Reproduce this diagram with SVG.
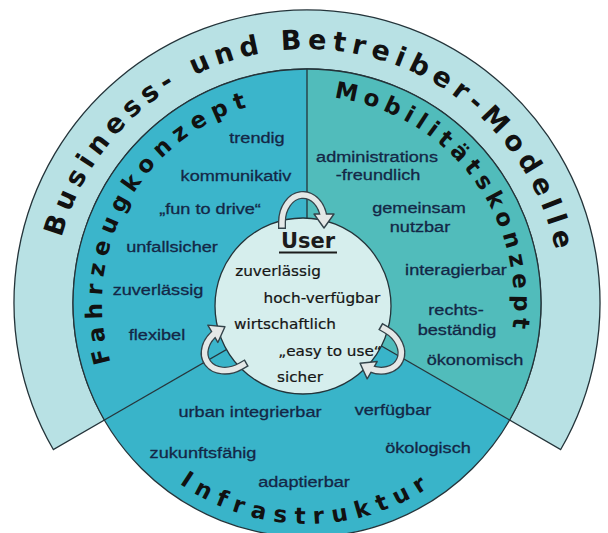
<svg xmlns="http://www.w3.org/2000/svg" xmlns:xlink="http://www.w3.org/1999/xlink" width="608" height="533" viewBox="0 0 608 533">
  <style>
    .edge { stroke: #24343a; stroke-width: 1.3; }
    .divider { stroke: #24343a; stroke-width: 1.3; fill: none; }
    .arc-title { font-family: "DejaVu Sans", Verdana, sans-serif; font-weight: bold; fill: #111; }
    .item { font-family: "Liberation Sans", Arial, sans-serif; font-size: 15.5px; fill: #142746; stroke: #142746; stroke-width: 0.3; text-anchor: middle; }
    .user-item { font-family: "DejaVu Sans", Verdana, sans-serif; font-size: 13.5px; fill: #151515; stroke: #151515; stroke-width: 0.2; text-anchor: middle; }
  </style>
  <defs>
    <path id="band-arc" d="M53,303 A254,254 0 0 1 561,303"/>
    <path id="left-arc" d="M207.6,482.3 A205,205 0 0 1 406.4,123.7"/>
    <path id="right-arc" d="M182.4,137.7 A207,207 0 0 1 431.6,468.3"/>
    <path id="bottom-arc" d="M86,303 A221,221 0 0 0 528,303"/>
    <!-- curved turn arrow, drawn at the top of the user circle (origin = circle centre) -->
    <g id="turn">
      <path d="M-21,-77 L-21,-84 A21,27 0 0 1 20.3,-91" fill="none" stroke="#33434a" stroke-width="8"/>
      <polygon points="11,-92 31,-92 21,-78" fill="#e4e8e7" stroke="#33434a" stroke-width="1.4" stroke-linejoin="round"/>
      <path d="M-21,-78.5 L-21,-84 A21,27 0 0 1 20.77,-88" fill="none" stroke="#e4e8e7" stroke-width="5.4"/>
    </g>
  </defs>

  <!-- outer band: Business- und Betreiber-Modelle -->
  <g id="band">
    <path d="M53.3,449.5 A293,293 0 1 1 560.7,449.5 L509.6,420 A234,234 0 1 0 104.4,420 Z" fill="#b8e1e4" class="edge"/>
    <text class="arc-title" font-size="27" letter-spacing="6"><textPath xlink:href="#band-arc" href="#band-arc" startOffset="408" text-anchor="middle">Business- und Betreiber-Modelle</textPath></text>
  </g>

  <!-- three sectors of the inner disc -->
  <g id="fahrzeugkonzept">
    <path d="M307,303 L104.4,420 A234,234 0 0 1 307,69 Z" fill="#3bb5cb"/>
  </g>
  <g id="mobilitaetskonzept">
    <path d="M307,303 L307,69 A234,234 0 0 1 509.6,420 Z" fill="#51bcbb"/>
  </g>
  <g id="infrastruktur">
    <path d="M307,303 L509.6,420 A234,234 0 0 1 104.4,420 Z" fill="#39b4c9"/>
  </g>
  <circle cx="307" cy="303" r="234" fill="none" class="edge"/>

  <g id="connectors">
    <line x1="307" y1="69" x2="307" y2="303" class="divider"/>
    <line x1="104.4" y1="420" x2="307" y2="303" class="divider"/>
    <line x1="509.6" y1="420" x2="307" y2="303" class="divider"/>
  </g>

  <!-- sector titles -->
  <text class="arc-title" font-size="23" letter-spacing="7"><textPath xlink:href="#left-arc" href="#left-arc" startOffset="50%" text-anchor="middle">Fahrzeugkonzept</textPath></text>
  <text class="arc-title" font-size="23" letter-spacing="5.6"><textPath xlink:href="#right-arc" href="#right-arc" startOffset="50%" text-anchor="middle">Mobilitätskonzept</textPath></text>
  <text class="arc-title" font-size="23" letter-spacing="8"><textPath xlink:href="#bottom-arc" href="#bottom-arc" startOffset="50%" text-anchor="middle">Infrastruktur</textPath></text>

  <!-- Fahrzeugkonzept items -->
  <g id="fahrzeug-items">
    <text class="item" transform="translate(257,143) scale(1.17,1)">trendig</text>
    <text class="item" transform="translate(236,181) scale(1.17,1)">kommunikativ</text>
    <text class="item" transform="translate(210,214) scale(1.17,1)">„fun to drive“</text>
    <text class="item" transform="translate(172,252) scale(1.17,1)">unfallsicher</text>
    <text class="item" transform="translate(158,295) scale(1.17,1)">zuverlässig</text>
    <text class="item" transform="translate(157,340) scale(1.17,1)">flexibel</text>
  </g>

  <!-- Mobilitätskonzept items -->
  <g id="mobilitaet-items">
    <text class="item" transform="translate(377,162) scale(1.17,1)">administrations</text>
    <text class="item" transform="translate(378,180) scale(1.17,1)">-freundlich</text>
    <text class="item" transform="translate(419,213) scale(1.17,1)">gemeinsam</text>
    <text class="item" transform="translate(420,232) scale(1.17,1)">nutzbar</text>
    <text class="item" transform="translate(456,275) scale(1.17,1)">interagierbar</text>
    <text class="item" transform="translate(456,315) scale(1.17,1)">rechts-</text>
    <text class="item" transform="translate(457,335) scale(1.17,1)">beständig</text>
    <text class="item" transform="translate(475,365) scale(1.17,1)">ökonomisch</text>
  </g>

  <!-- Infrastruktur items -->
  <g id="infrastruktur-items">
    <text class="item" transform="translate(250,417) scale(1.17,1)">urban integrierbar</text>
    <text class="item" transform="translate(393,415) scale(1.17,1)">verfügbar</text>
    <text class="item" transform="translate(203,458) scale(1.17,1)">zukunftsfähig</text>
    <text class="item" transform="translate(428,453) scale(1.17,1)">ökologisch</text>
    <text class="item" transform="translate(304,487) scale(1.17,1)">adaptierbar</text>
  </g>

  <!-- central user node -->
  <g id="user">
    <circle cx="303" cy="306" r="88" fill="#d6eeed" class="edge"/>
    <text x="308" y="248" font-family="'DejaVu Sans', Verdana, sans-serif" font-size="21" font-weight="bold" fill="#1c1c1c" text-anchor="middle">User</text>
    <line x1="279" y1="252.5" x2="337" y2="252.5" stroke="#1c1c1c" stroke-width="2"/>
    <text class="user-item" transform="translate(278,276) scale(1.13,1)">zuverlässig</text>
    <text class="user-item" transform="translate(322,303) scale(1.13,1)">hoch-verfügbar</text>
    <text class="user-item" transform="translate(285,329) scale(1.13,1)">wirtschaftlich</text>
    <text class="user-item" transform="translate(330,356) scale(1.13,1)">„easy to use“</text>
    <text class="user-item" transform="translate(300,382) scale(1.13,1)">sicher</text>
  </g>

  <!-- turn arrows between the sectors -->
  <g id="arrows">
    <use xlink:href="#turn" href="#turn" transform="translate(303,306)"/>
    <use xlink:href="#turn" href="#turn" transform="translate(303,306) rotate(120)"/>
    <use xlink:href="#turn" href="#turn" transform="translate(303,306) rotate(240)"/>
  </g>
</svg>
